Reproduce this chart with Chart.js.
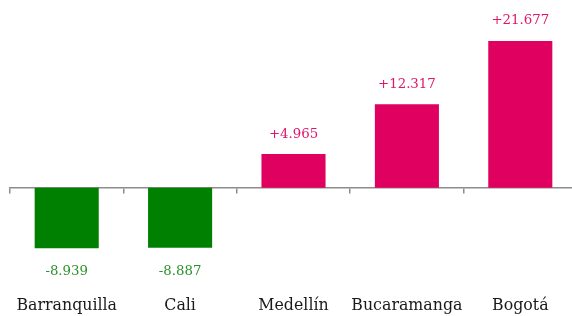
<!DOCTYPE html>
<html>
<head>
<meta charset="utf-8">
<script src="https://cdn.jsdelivr.net/npm/chart.js@4"></script>
<style>
    html, body { margin: 0; padding: 0; background: #fff; overflow: hidden; }
    .wrap { width: 580px; height: 319px; position: relative; }
</style>
</head>
<body>
<div class="wrap"><canvas id="chart"></canvas></div>
<script>
var cities = ['Barranquilla', 'Cali', 'Medellín', 'Bucaramanga', 'Bogotá'];
var changes = [-8.939, -8.887, 4.965, 12.317, 21.677];

var POS = '#e0005f';
var NEG = '#008000';
var POS_TEXT = '#e0146a';
var NEG_TEXT = '#2a922a';

/* value labels above positive bars, below negative ones */
var valueLabels = {
    id: 'valueLabels',
    afterDatasetsDraw: function(chart) {
        var ctx = chart.ctx;
        var meta = chart.getDatasetMeta(0);
        ctx.save();
        ctx.font = '13.3px "DejaVu Serif"';
        ctx.textAlign = 'center';
        ctx.textBaseline = 'middle';
        meta.data.forEach(function(bar, i) {
            var v = changes[i];
            var txt = (v > 0 ? '+' : '') + v.toFixed(3);
            ctx.fillStyle = v >= 0 ? POS_TEXT : NEG_TEXT;
            var y = v >= 0 ? bar.y - 20 : bar.y + 23.5;
            ctx.fillText(txt, bar.x, y);
        });
        ctx.restore();
    }
};

new Chart(document.getElementById('chart'), {
    type: 'bar',
    data: {
        labels: cities,
        datasets: [{
            data: changes,
            backgroundColor: changes.map(function(v) { return v >= 0 ? POS : NEG; }),
            barPercentage: 0.565,
            categoryPercentage: 1
        }]
    },
    options: {
        responsive: true,
        maintainAspectRatio: false,
        animation: false,
        layout: { padding: { left: 10, right: 3, top: 0, bottom: 0 } },
        plugins: { legend: { display: false }, tooltip: { enabled: false } },
        scales: {
            y: { display: false, min: -14.23, max: 27.73 },
            x: {
                grid: { display: false },
                border: { display: false },
                ticks: { color: '#1a1a1a', padding: 4, maxRotation: 0, autoSkip: false,
                         font: { family: 'DejaVu Serif', size: 15.8 } }
            },
            // zero line with the tick marks between categories
            x2: {
                type: 'category',
                labels: cities,
                position: { y: 0 },
                offset: true,
                grid: { offset: true, drawOnChartArea: false, drawTicks: true, tickLength: 5, color: '#8c8c8c', lineWidth: 1.5 },
                border: { display: true, color: '#8c8c8c', width: 1.5 },
                ticks: { display: false }
            }
        }
    },
    plugins: [valueLabels]
});
</script>
</body>
</html>
